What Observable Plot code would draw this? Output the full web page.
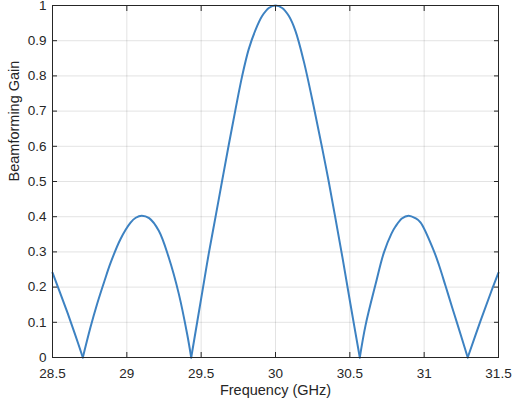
<!DOCTYPE html>
<html>
<head>
<meta charset="utf-8">
<script src="https://cdn.jsdelivr.net/npm/d3@7"></script>
<script src="https://cdn.jsdelivr.net/npm/@observablehq/plot@0.6"></script>
<style>
  html, body { margin: 0; padding: 0; background: #fff; }
  #chart svg { display: block; }
</style>
</head>
<body>
<div id="chart"></div>
<script>
const freqGHz = [28.50, 28.55, 28.60, 28.65, 28.704, 28.755, 28.80, 28.85, 28.89, 28.957, 29.025, 29.06, 29.10, 29.15, 29.215, 29.282, 29.35, 29.406, 29.433,
  29.507, 29.551, 29.596, 29.641, 29.686, 29.731, 29.776, 29.82, 29.865, 29.91, 29.955, 30.0, 30.045, 30.09, 30.134, 30.19, 30.257, 30.313, 30.357, 30.402, 30.45, 30.504, 30.567,
  30.606, 30.673, 30.729, 30.78, 30.807, 30.85, 30.895, 30.94, 30.975, 31.065, 31.10, 31.144, 31.19, 31.222, 31.293, 31.379, 31.45, 31.5];
const gain = [0.241, 0.185, 0.128, 0.068, 0, 0.085, 0.152, 0.218, 0.268, 0.336, 0.383, 0.397, 0.403, 0.396, 0.360, 0.284, 0.180, 0.066, 0,
  0.185, 0.295, 0.398, 0.502, 0.605, 0.705, 0.800, 0.876, 0.930, 0.970, 0.993, 1.0, 0.993, 0.970, 0.928, 0.842, 0.713, 0.597, 0.502, 0.398, 0.285, 0.152, 0,
  0.092, 0.208, 0.298, 0.352, 0.372, 0.395, 0.403, 0.396, 0.384, 0.303, 0.262, 0.203, 0.140, 0.097, 0, 0.104, 0.186, 0.241];

const xTicks = [28.5, 29, 29.5, 30, 30.5, 31, 31.5];
const xTickLabels = ["28.5", "29", "29.5", "30", "30.5", "31", "31.5"];
const yTicks = [0, 0.1, 0.2, 0.3, 0.4, 0.5, 0.6, 0.7, 0.8, 0.9, 1];
const yTickLabels = ["0", "0.1", "0.2", "0.3", "0.4", "0.5", "0.6", "0.7", "0.8", "0.9", "1"];
const xLabel = "Frequency (GHz)";
const yLabel = "Beamforming Gain";

// split the curve into lobes at its nulls so each null stays a sharp V
const data = [];
let lobe = 0;
freqGHz.forEach((f, i) => {
  data.push({f, g: gain[i], lobe});
  if (gain[i] === 0 && i > 0 && i < freqGHz.length - 1) {
    lobe++;
    data.push({f, g: gain[i], lobe});
  }
});

const ink = "#262626";
const xFmt = d => xTickLabels[xTicks.indexOf(d)];
const yFmt = d => yTickLabels[yTicks.indexOf(d)];

const chart = Plot.plot({
  width: 512,
  height: 406,
  marginLeft: 52,
  marginRight: 14,
  marginTop: 5,
  marginBottom: 49,
  style: {fontFamily: "'Liberation Sans', Arial, Helvetica, sans-serif", fontSize: "13.5px", color: ink, background: "#fff"},
  x: {domain: [28.5, 31.5]},
  y: {domain: [0, 1]},
  marks: [
    Plot.gridX(xTicks, {stroke: ink, strokeOpacity: 0.13, strokeWidth: 1}),
    Plot.gridY(yTicks, {stroke: ink, strokeOpacity: 0.13, strokeWidth: 1}),
    Plot.line(data, {x: "f", y: "g", z: "lobe", curve: "catmull-rom", stroke: "#3d82c2", strokeWidth: 2}),
    Plot.frame({stroke: ink, strokeWidth: 1}),
    // inward tick marks on all four sides
    Plot.axisX(xTicks, {anchor: "bottom", tickSize: 5, dy: -5, fill: "none", stroke: ink, label: null, tickFormat: () => ""}),
    Plot.axisX(xTicks, {anchor: "top", tickSize: 5, dy: 5, fill: "none", stroke: ink, label: null, tickFormat: () => ""}),
    Plot.axisY(yTicks, {anchor: "left", tickSize: 5, dx: 5, fill: "none", stroke: ink, label: null, tickFormat: () => ""}),
    Plot.axisY(yTicks, {anchor: "right", tickSize: 5, dx: -5, fill: "none", stroke: ink, label: null, tickFormat: () => ""}),
    // tick labels
    Plot.axisX(xTicks, {anchor: "bottom", tickSize: 0, tickPadding: 11, tickFormat: xFmt, label: null, fill: ink}),
    Plot.axisY(yTicks, {anchor: "left", tickSize: 0, tickPadding: 6, tickFormat: yFmt, label: null, fill: ink}),
    // axis titles
    Plot.text([xLabel], {frameAnchor: "bottom", dy: 37, text: d => d, fill: ink, fontSize: 14.5}),
    Plot.text([yLabel], {frameAnchor: "left", dx: -38, rotate: -90, text: d => d, fill: ink, fontSize: 14.5})
  ]
});
document.getElementById("chart").appendChild(chart);
</script>
</body>
</html>
